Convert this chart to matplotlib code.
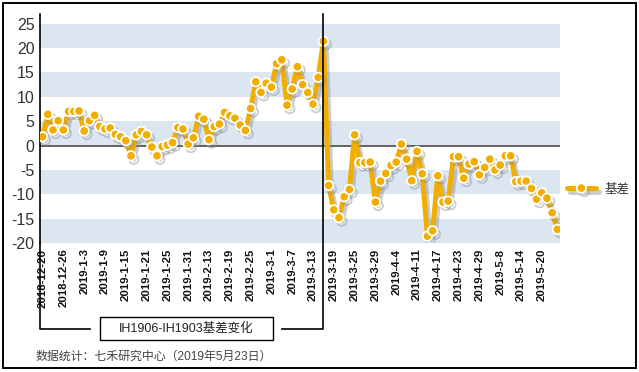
import matplotlib
matplotlib.use("Agg")
import matplotlib.pyplot as plt
import matplotlib.patheffects as pe
from matplotlib.lines import Line2D
from matplotlib.patches import Rectangle

dates = [
    "2018-12-20", "2018-12-21", "2018-12-24", "2018-12-25", "2018-12-26", "2018-12-27", "2018-12-28",
    "2019-1-2", "2019-1-3", "2019-1-4", "2019-1-7", "2019-1-8", "2019-1-9", "2019-1-10", "2019-1-11",
    "2019-1-14", "2019-1-15", "2019-1-16", "2019-1-17", "2019-1-18", "2019-1-21", "2019-1-22", "2019-1-23",
    "2019-1-24", "2019-1-25", "2019-1-28", "2019-1-29", "2019-1-30", "2019-1-31",
    "2019-2-1", "2019-2-11", "2019-2-12", "2019-2-13", "2019-2-14", "2019-2-15", "2019-2-18", "2019-2-19",
    "2019-2-20", "2019-2-21", "2019-2-22", "2019-2-25", "2019-2-26", "2019-2-27", "2019-2-28",
    "2019-3-1", "2019-3-4", "2019-3-5", "2019-3-6", "2019-3-7", "2019-3-8", "2019-3-11", "2019-3-12",
    "2019-3-13", "2019-3-14", "2019-3-15", "2019-3-18", "2019-3-19", "2019-3-20", "2019-3-21", "2019-3-22",
    "2019-3-25", "2019-3-26", "2019-3-27", "2019-3-28", "2019-3-29",
    "2019-4-1", "2019-4-2", "2019-4-3", "2019-4-4", "2019-4-8", "2019-4-9", "2019-4-10", "2019-4-11",
    "2019-4-12", "2019-4-15", "2019-4-16", "2019-4-17", "2019-4-18", "2019-4-19", "2019-4-22", "2019-4-23",
    "2019-4-24", "2019-4-25", "2019-4-26", "2019-4-29", "2019-4-30",
    "2019-5-6", "2019-5-7", "2019-5-8", "2019-5-9", "2019-5-10", "2019-5-13", "2019-5-14", "2019-5-15",
    "2019-5-16", "2019-5-17", "2019-5-20", "2019-5-21", "2019-5-22", "2019-5-23",
]

basis = [
    1.8, 6.4, 3.2, 5.1, 3.2, 7.0, 7.0, 7.1, 3.0, 5.1,
    6.2, 3.9, 3.4, 3.6, 2.3, 1.8, 1.0, -2.1, 2.2, 2.9,
    2.2, -0.3, -2.1, -0.2, 0.1, 0.6, 3.7, 3.4, 0.3, 1.6,
    6.0, 5.4, 1.2, 3.9, 4.4, 6.8, 6.1, 5.6, 4.2, 3.1,
    7.6, 13.1, 10.9, 12.8, 12.0, 16.8, 17.6, 8.3, 11.6, 16.2,
    12.5, 10.9, 8.5, 14.0, 21.4, -8.2, -13.2, -14.8, -10.5, -9.0,
    2.2, -3.5, -3.5, -3.4, -11.6, -7.3, -5.7, -4.1, -3.4, 0.3,
    -2.8, -7.2, -1.2, -5.8, -18.6, -17.5, -6.2, -11.6, -11.4, -2.3,
    -2.3, -6.7, -3.8, -3.3, -6.0, -4.5, -2.8, -5.0, -4.0, -2.1,
    -2.1, -7.4, -7.3, -7.3, -8.8, -11.0, -9.7, -10.8, -13.8, -17.2,
]

yticks = [25, 20, 15, 10, 5, 0, -5, -10, -15, -20]
series_name = "基差"
box_label = "IH1906-IH1903基差变化"
footer = "数据统计：七禾研究中心（2019年5月23日）"

W, H = 639, 372
fig = plt.figure(figsize=(W / 100, H / 100), dpi=100)
fig.patch.set_facecolor("white")

def fx(px):
    return px / W

def fy(py):
    return 1 - py / H

ax = fig.add_axes([fx(40), fy(243), fx(560) - fx(40), fy(14) - fy(243)])
ax.set_xlim(-0.5, len(basis) - 0.5)
ax.set_ylim(-20, 27)

band = "#DCE6F1"
for lo in [20, 10, 0, -10, -20]:
    ax.axhspan(lo, lo + 5, color=band, lw=0, zorder=0)
ax.axhline(0, color="#555555", lw=1.3, zorder=1)

orange = "#F2AE00"
x = list(range(len(basis)))
ax.plot(x, basis, color=orange, lw=3.6, marker="o", ms=6.8, mfc=orange,
        mec="white", mew=1.3, solid_joinstyle="round", solid_capstyle="round",
        label=series_name, zorder=3,
        path_effects=[pe.SimpleLineShadow(offset=(2.0, -2.5), shadow_color="#8a8f96", alpha=0.45),
                      pe.Normal()])

for s in ["top", "right", "bottom"]:
    ax.spines[s].set_visible(False)
ax.spines["left"].set_color("black")
ax.spines["left"].set_linewidth(1.2)

ax.set_yticks(yticks)
ax.set_yticklabels([str(v) for v in yticks], fontsize=11.5, color="#333333",
                   family="Liberation Sans")
ax.tick_params(axis="y", length=0, pad=4)

tick_idx = list(range(0, len(dates), 4))
ax.set_xticks(tick_idx)
ax.set_xticklabels([dates[i] for i in tick_idx], rotation=90, fontsize=8.2,
                   fontweight="bold", family="Liberation Sans", color="#111111")
ax.tick_params(axis="x", length=0, pad=4)

# bracket lines
xl, xr = fx(40), fx(322.5)
yb = fy(329)
fig.add_artist(Line2D([xl, xl, fx(90)], [fy(243), yb, yb], color="black", lw=1.2))
fig.add_artist(Line2D([fx(282), xr, xr], [yb, yb, fy(14)], color="black", lw=1.2, zorder=2.5))
fig.add_artist(Rectangle((fx(100), fy(339.5)), fx(273) - fx(100), fy(317) - fy(339.5),
                         facecolor="white", edgecolor="black", lw=1.0))
fig.text(fx(186.5), fy(328.5), box_label, ha="center", va="center", fontsize=9,
         family=["Liberation Sans", "Noto Sans CJK SC"], color="#222222")

fig.text(fx(35), fy(357), footer, ha="left", va="center", fontsize=8.6,
         family=["Liberation Sans", "Noto Sans CJK SC"], color="#444444")

leg = ax.legend(loc="center left", bbox_to_anchor=(fx(567), fy(189)),
                bbox_transform=fig.transFigure, frameon=False, numpoints=1,
                handlelength=2.3, handletextpad=0.7, borderpad=0, borderaxespad=0,
                prop={"family": ["Noto Sans CJK SC"], "size": 9})
for t in leg.get_texts():
    t.set_color("#333333")

fig.add_artist(Rectangle((fx(3), fy(368)), fx(636) - fx(3), fy(3) - fy(368),
                         fill=False, edgecolor="black", lw=1.4))

fig.savefig("out.png", dpi=100)
